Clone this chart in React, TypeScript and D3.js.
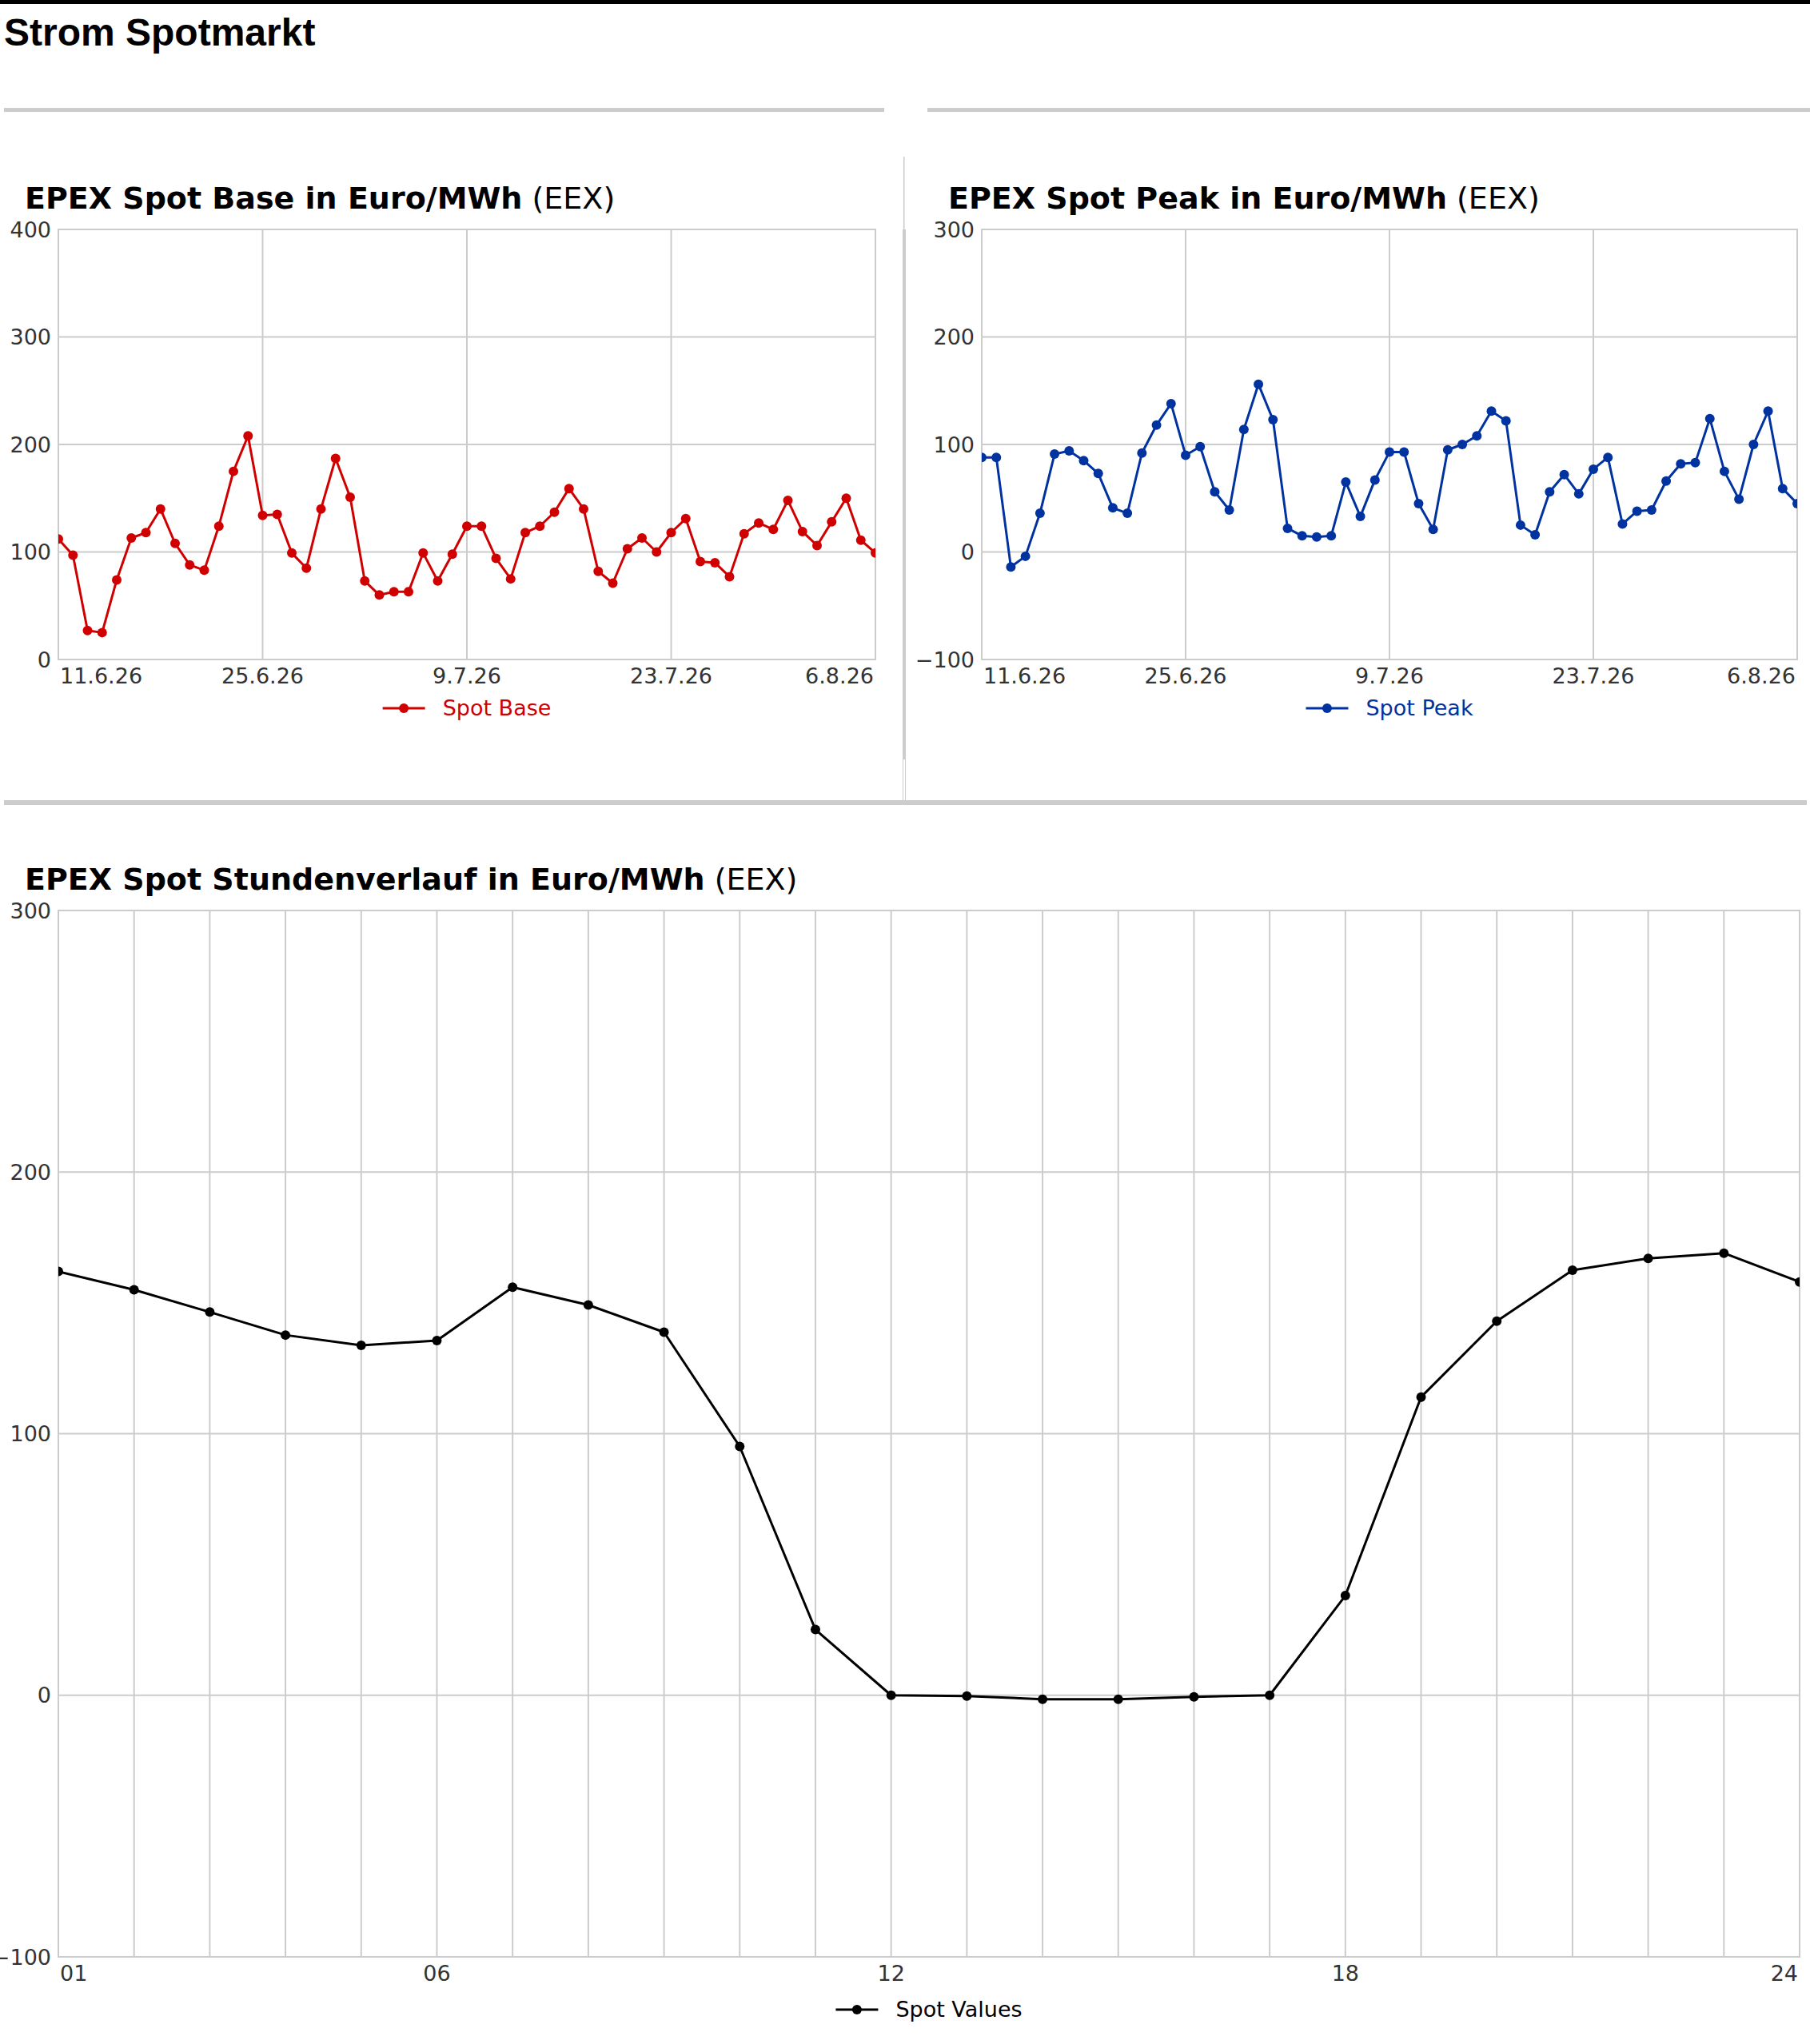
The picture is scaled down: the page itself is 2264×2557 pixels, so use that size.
import * as d3 from "d3";
import { useEffect, useRef } from "react";

// daily range shown in the two upper charts
const dayStart = "2026-06-11";
const dayEnd = "2026-08-06";
const dayTicks = ["2026-06-11", "2026-06-25", "2026-07-09", "2026-07-23", "2026-08-06"];

const spotBase = [
  112, 97, 27, 25, 74, 113, 118, 140, 108, 88, 83, 124, 175, 208, 134, 135, 99, 85, 140, 187,
  151, 73, 60, 63, 63, 99, 73, 98, 124, 124, 94, 75, 118, 124, 137, 159, 140, 82, 71, 103,
  113, 100, 118, 131, 91, 90, 77, 117, 127, 121, 148, 119, 106, 128, 150, 111, 99,
];

const spotPeak = [
  88, 88, -14, -4, 36, 91, 94, 85, 73, 41, 36, 92, 118, 138, 90, 98, 56, 39, 114, 156,
  123, 22, 15, 14, 15, 65, 33, 67, 93, 93, 45, 21, 95, 100, 108, 131, 122, 25, 16, 56,
  72, 54, 77, 88, 26, 38, 39, 66, 82, 83, 124, 75, 49, 100, 131, 59, 45,
];

const hours = [
  "01", "02", "03", "04", "05", "06", "07", "08", "09", "10", "11", "12",
  "13", "14", "15", "16", "17", "18", "19", "20", "21", "22", "23", "24",
];
const hourTicks = ["01", "06", "12", "18", "24"];

const spotValues = [
  162, 155, 146.5, 137.7, 133.8, 135.6, 156, 149.2, 138.8, 95.1, 25.1, 0,
  -0.3, -1.5, -1.5, -0.6, 0, 38.1, 114, 143, 162.5, 167, 169, 158,
];

const baseTicks = [0, 100, 200, 300, 400];
const peakTicks = [-100, 0, 100, 200, 300];
const hourValueTicks = [-100, 0, 100, 200, 300];

const FONT = "'DejaVu Sans', sans-serif";
const GRID = "#cccccc";
const LABEL = "#333333";

type Box = { left: number; right: number; top: number; bottom: number };

type PanelSpec = {
  id: string;
  box: Box;
  title: string;
  color: string;
  legend: string;
  legendGap: number;
  y: d3.ScaleLinear<number, number>;
  yTicks: number[];
  xGrid: number[];
  xLabels: { pos: number; text: string }[];
  points: [number, number][];
};

function drawPanel(svg: d3.Selection<SVGSVGElement, unknown, null, undefined>, spec: PanelSpec) {
  const { box } = spec;
  const g = svg.append("g");

  g.append("clipPath")
    .attr("id", `clip-${spec.id}`)
    .append("rect")
    .attr("x", box.left)
    .attr("y", box.top)
    .attr("width", box.right - box.left)
    .attr("height", box.bottom - box.top);

  // title
  const title = g
    .append("text")
    .attr("x", box.left - 42)
    .attr("y", box.top - 26)
    .attr("font-family", FONT)
    .attr("font-size", 38)
    .attr("fill", "#000");
  title.append("tspan").attr("font-weight", "bold").text(spec.title);
  title.append("tspan").text(" (EEX)");

  // horizontal grid + y labels
  g.selectAll(".hgrid")
    .data(spec.yTicks)
    .join("line")
    .attr("x1", box.left)
    .attr("x2", box.right)
    .attr("y1", (d) => spec.y(d))
    .attr("y2", (d) => spec.y(d))
    .attr("stroke", GRID)
    .attr("stroke-width", 2);

  g.selectAll(".ylab")
    .data(spec.yTicks)
    .join("text")
    .attr("x", box.left - 9)
    .attr("y", (d) => spec.y(d))
    .attr("dy", "0.36em")
    .attr("text-anchor", "end")
    .attr("font-family", FONT)
    .attr("font-size", 27)
    .attr("fill", LABEL)
    .text((d) => (d < 0 ? `\u2212${Math.abs(d)}` : `${d}`));

  // vertical grid
  g.selectAll(".vgrid")
    .data(spec.xGrid)
    .join("line")
    .attr("x1", (d) => d)
    .attr("x2", (d) => d)
    .attr("y1", box.top)
    .attr("y2", box.bottom)
    .attr("stroke", GRID)
    .attr("stroke-width", 2);

  // frame
  g.append("rect")
    .attr("x", box.left)
    .attr("y", box.top)
    .attr("width", box.right - box.left)
    .attr("height", box.bottom - box.top)
    .attr("fill", "none")
    .attr("stroke", GRID)
    .attr("stroke-width", 2);

  // x labels
  const last = spec.xLabels.length - 1;
  g.selectAll(".xlab")
    .data(spec.xLabels)
    .join("text")
    .attr("x", (d, i) => (i === 0 ? d.pos + 2 : i === last ? d.pos - 2 : d.pos))
    .attr("y", box.bottom + 30)
    .attr("text-anchor", (_, i) => (i === 0 ? "start" : i === last ? "end" : "middle"))
    .attr("font-family", FONT)
    .attr("font-size", 27)
    .attr("fill", LABEL)
    .text((d) => d.text);

  // series
  const plot = g.append("g").attr("clip-path", `url(#clip-${spec.id})`);
  plot
    .append("path")
    .datum(spec.points)
    .attr("d", d3.line())
    .attr("fill", "none")
    .attr("stroke", spec.color)
    .attr("stroke-width", 3)
    .attr("stroke-linejoin", "round");

  plot
    .selectAll("circle")
    .data(spec.points)
    .join("circle")
    .attr("cx", (d) => d[0])
    .attr("cy", (d) => d[1])
    .attr("r", 6)
    .attr("fill", spec.color);

  // legend centred under the plot
  const legendY = box.bottom + spec.legendGap;
  const leg = g.append("g");
  leg.append("line")
    .attr("x1", 0)
    .attr("x2", 53)
    .attr("y1", legendY)
    .attr("y2", legendY)
    .attr("stroke", spec.color)
    .attr("stroke-width", 3);
  leg.append("circle").attr("cx", 26.5).attr("cy", legendY).attr("r", 6).attr("fill", spec.color);
  const legText = leg
    .append("text")
    .attr("x", 75)
    .attr("y", legendY + 9)
    .attr("font-family", FONT)
    .attr("font-size", 27)
    .attr("fill", spec.color)
    .text(spec.legend);
  const textWidth = (legText.node() as SVGTextElement).getComputedTextLength();
  const total = 75 + textWidth;
  leg.attr("transform", `translate(${(box.left + box.right) / 2 - total / 2},0)`);
}

export default function App() {
  const svgRef = useRef<SVGSVGElement | null>(null);

  useEffect(() => {
    if (!svgRef.current) return;
    const svg = d3.select(svgRef.current);
    const width = 2264;
    const height = 2557;
    svg.selectAll("*").remove();
    svg.attr("viewBox", `0 0 ${width} ${height}`);

    svg.append("rect").attr("width", width).attr("height", height).attr("fill", "#fff");

    // page chrome
    svg.append("rect").attr("x", 0).attr("y", 0).attr("width", width).attr("height", 5).attr("fill", "#000");
    svg
      .append("text")
      .attr("x", 5)
      .attr("y", 57)
      .attr("font-family", "'Liberation Sans', Arial, sans-serif")
      .attr("font-weight", "bold")
      .attr("font-size", 48)
      .attr("fill", "#000")
      .text("Strom Spotmarkt");
    svg.append("rect").attr("x", 5).attr("y", 135).attr("width", 1101).attr("height", 5).attr("fill", GRID);
    svg.append("rect").attr("x", 1160).attr("y", 135).attr("width", 1104).attr("height", 5).attr("fill", GRID);
    svg.append("rect").attr("x", 1130).attr("y", 196).attr("width", 1.5).attr("height", 91).attr("fill", GRID);
    svg.append("rect").attr("x", 1129).attr("y", 287).attr("width", 4).attr("height", 663).attr("fill", GRID);
    svg.append("rect").attr("x", 1129).attr("y", 950).attr("width", 1).attr("height", 51).attr("fill", GRID);
    svg.append("rect").attr("x", 1132).attr("y", 950).attr("width", 1).attr("height", 51).attr("fill", GRID);
    svg.append("rect").attr("x", 5).attr("y", 1001).attr("width", 2255).attr("height", 6).attr("fill", GRID);

    const parse = d3.timeParse("%Y-%m-%d");
    const fmt = d3.timeFormat("%-d.%-m.%y");
    const start = parse(dayStart) as Date;
    const end = parse(dayEnd) as Date;
    const days = d3.timeDay.range(start, d3.timeDay.offset(end, 1));
    const tickDates = dayTicks.map((d) => parse(d) as Date);

    // EPEX Spot Base
    const baseBox = { left: 73, right: 1095, top: 287, bottom: 825 };
    const xBase = d3.scaleTime().domain([start, end]).range([baseBox.left, baseBox.right]);
    const yBase = d3.scaleLinear().domain([0, 400]).range([baseBox.bottom, baseBox.top]);
    drawPanel(svg, {
      id: "base",
      box: baseBox,
      title: "EPEX Spot Base in Euro/MWh",
      color: "#d10000",
      legend: "Spot Base",
      legendGap: 61,
      y: yBase,
      yTicks: baseTicks,
      xGrid: tickDates.map((d) => xBase(d)),
      xLabels: tickDates.map((d) => ({ pos: xBase(d), text: fmt(d) })),
      points: spotBase.map((v, i) => [xBase(days[i]), yBase(v)]),
    });

    // EPEX Spot Peak
    const peakBox = { left: 1228, right: 2248, top: 287, bottom: 825 };
    const xPeak = d3.scaleTime().domain([start, end]).range([peakBox.left, peakBox.right]);
    const yPeak = d3.scaleLinear().domain([-100, 300]).range([peakBox.bottom, peakBox.top]);
    drawPanel(svg, {
      id: "peak",
      box: peakBox,
      title: "EPEX Spot Peak in Euro/MWh",
      color: "#0033a0",
      legend: "Spot Peak",
      legendGap: 61,
      y: yPeak,
      yTicks: peakTicks,
      xGrid: tickDates.map((d) => xPeak(d)),
      xLabels: tickDates.map((d) => ({ pos: xPeak(d), text: fmt(d) })),
      points: spotPeak.map((v, i) => [xPeak(days[i]), yPeak(v)]),
    });

    // EPEX Spot Stundenverlauf
    const hourBox = { left: 73, right: 2251, top: 1139, bottom: 2448 };
    const xHour = d3.scalePoint<string>().domain(hours).range([hourBox.left, hourBox.right]);
    const yHour = d3.scaleLinear().domain([-100, 300]).range([hourBox.bottom, hourBox.top]);
    drawPanel(svg, {
      id: "hour",
      box: hourBox,
      title: "EPEX Spot Stundenverlauf in Euro/MWh",
      color: "#000000",
      legend: "Spot Values",
      legendGap: 66,
      y: yHour,
      yTicks: hourValueTicks,
      xGrid: hours.map((h) => xHour(h) ?? 0),
      xLabels: hourTicks.map((h) => ({ pos: xHour(h) ?? 0, text: h })),
      points: spotValues.map((v, i) => [xHour(hours[i]) ?? 0, yHour(v)]),
    });
  }, []);

  return (
    <svg
      ref={svgRef}
      width={2264}
      height={2557}
      style={{ position: "absolute", left: 0, top: 0, display: "block" }}
    />
  );
}
